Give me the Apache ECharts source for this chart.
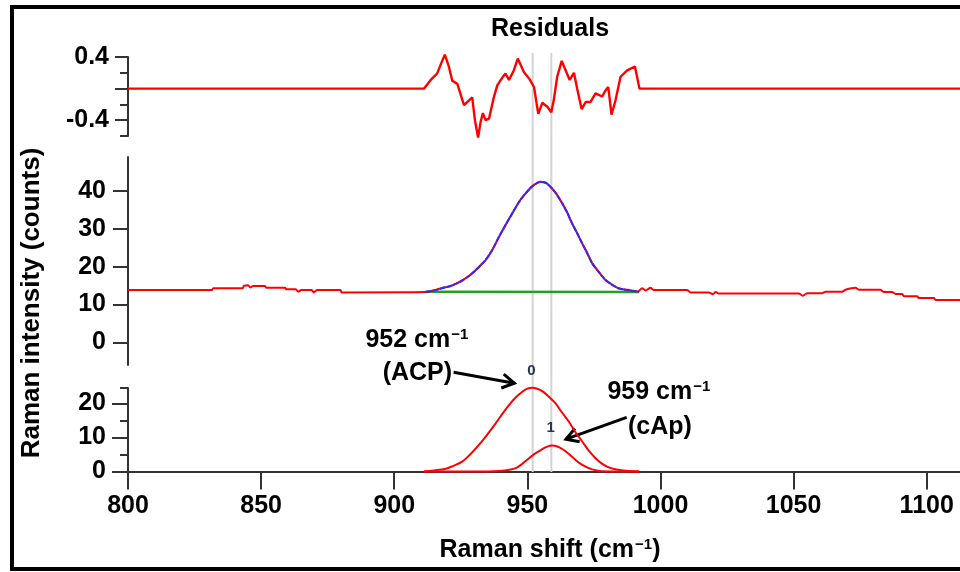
<!DOCTYPE html>
<html><head><meta charset="utf-8">
<script src="https://cdn.jsdelivr.net/npm/echarts@6/dist/echarts.min.js"></script>
<style>html,body{margin:0;padding:0;background:#fff}#c{width:960px;height:572px}</style>
</head><body><div id="c"></div>
<script>
// ---------- data ----------
const xMin = 800, xMax = 1112.5, xStep = 50;
const peakCenters = [952, 959];

const residual = [[800,0],[911.2,0],[911.9,-0.02],[913.7,0.11],[916.1,0.19],[917.4,0.30],[919.0,0.43],[920.5,0.28],[921.8,0.10],[923.7,0.06],[926.2,-0.21],[928.1,-0.15],[929.3,-0.11],[930.3,-0.40],[931.5,-0.62],[932.4,-0.43],[933.3,-0.31],[934.3,-0.40],[935.6,-0.38],[937.4,-0.11],[938.7,0.04],[940.6,0.14],[941.8,0.19],[943.1,0.11],[944.9,0.23],[946.4,0.38],[948.7,0.21],[950.8,0.12],[952.5,0.02],[954.1,-0.32],[955.6,-0.18],[957.5,-0.23],[959.0,-0.30],[960.0,-0.13],[961.2,0.15],[962.9,0.35],[964.4,0.23],[965.9,0.11],[967.5,0.20],[968.7,0.00],[970.4,-0.26],[971.9,-0.17],[973.7,-0.17],[975.6,-0.06],[978.1,-0.10],[979.4,-0.02],[980.4,0.02],[981.6,-0.33],[983.1,-0.15],[985.0,0.15],[987.5,0.23],[990.4,0.28],[991.2,0.15],[992.1,0],[1112.5,0]];

const measured = [[800,13.8],[831.5,13.8],[832,14.3],[843,14.3],[843.5,14.9],[845,15.1],[846,14.5],[847,14.9],[851.5,14.9],[852,14.4],[859,14.4],[859.5,14.0],[863,14.0],[864,13.4],[865,13.8],[869,13.8],[869.8,13.2],[871,13.8],[879.8,13.8],[880.2,13.2],[911.8,13.3],[915,13.8],[918,14.4],[921,14.8],[924.3,15.9],[927,17.0],[929.3,18.2],[932,20.1],[934.3,21.7],[937,24.7],[939.3,27.8],[942,31.3],[944.3,34.0],[947,37.3],[949.3,39.3],[952,41.4],[955,42.4],[957,42.2],[959.3,40.6],[961,39.2],[963.1,36.7],[965,34.3],[966.8,31.4],[968.7,28.9],[970.6,26.1],[972.5,23.6],[974.4,20.8],[977,18.5],[979.4,16.4],[982,15.2],[984.4,14.2],[987.5,13.9],[990.6,13.5],[991.5,13.4],[993.1,14.3],[994.4,13.7],[996.3,14.4],[997.5,13.8],[1010,13.8],[1011.3,13.2],[1018.2,13.2],[1019.7,12.7],[1020.7,13.3],[1021.9,12.9],[1052,12.9],[1053.5,12.3],[1055.1,13.0],[1060.7,13.0],[1062,13.4],[1068.2,13.4],[1069.5,13.9],[1073.3,14.4],[1074.5,13.9],[1082.6,13.9],[1083.9,13.3],[1087,13.3],[1088.3,12.8],[1090.8,12.8],[1091.4,12.2],[1096.4,12.2],[1097,11.7],[1102.7,11.7],[1103.3,11.2],[1112.5,11.2]];

const fit = [[911.8,13.4],[915,13.7],[918,14.3],[921,14.9],[924.3,15.8],[927,17.0],[929.3,18.3],[932,20.0],[934.3,21.8],[937,24.6],[939.3,27.9],[942,31.2],[944.3,34.1],[947,37.2],[949.3,39.4],[952,41.3],[955,42.5],[957,42.1],[959.3,40.7],[961,39.1],[963.1,36.8],[965,34.2],[966.8,31.5],[968.7,28.8],[970.6,26.2],[972.5,23.5],[974.4,20.9],[977,18.4],[979.4,16.5],[982,15.1],[984.4,14.3],[987.5,13.8],[990.6,13.5],[992,13.4]];

const baseline = [[911.8,13.4],[992,13.3]];

const peak0 = [[911.2,0],[915,0.3],[919.3,0.8],[922,1.6],[925.5,2.9],[928.5,5.0],[931.8,7.8],[935,10.9],[938.1,14.1],[940.6,16.9],[943.1,19.5],[945.6,21.7],[948.1,23.4],[950,24.3],[951.8,24.6],[953.7,24.3],[955.6,23.6],[958,22.0],[960.6,20.0],[963,17.3],[965.6,14.6],[968,11.6],[970.6,8.8],[973,6.2],[975.6,3.9],[978,2.3],[980.6,1.2],[983.5,0.6],[986.9,0.2],[992,0]];

const peak1 = [[911.2,0],[935,0],[940.6,0.2],[943,0.5],[945.6,1.0],[948,2.2],[950.6,3.9],[953,5.3],[955.6,6.6],[957.5,7.3],[959.1,7.6],[961,7.4],[963.1,6.6],[965.5,5.2],[968.1,3.4],[970.5,2.0],[973.1,1.0],[975.5,0.4],[978.1,0.1],[992,0]];

// axis ticks / labels
const resMajor = [-0.4, 0, 0.4], resMinor = [-0.6, -0.2, 0.2], resLabels = [-0.4, 0.4];
const midTicks = [0, 10, 20, 30, 40];
const lowMajor = [0, 10, 20], lowMinor = [5, 15, 24.5];

// annotations (bottom panel data coordinates)
const notes = [
  {text: '952 cm{s|−1}', at: [908.5, 38.6]},
  {text: '(ACP)', at: [908.7, 28.8]},
  {text: '959 cm{s|−1}', at: [999.4, 23.4]},
  {text: '(cAp)', at: [999.8, 13.0]}
];
const arrows = [
  {from: [922.3, 29.1], to: [945.1, 25.9]},
  {from: [987.3, 15.9], to: [964.5, 9.5]}
];
const peakTags = [{text: '0', at: [951.5, 29.6]}, {text: '1', at: [958.8, 12.7]}];

// ---------- chart ----------
const FONT = "'Liberation Sans', Arial, sans-serif";
const AX = '#333';
const chart = echarts.init(document.getElementById('c'));
const L = 128, W = 832;

function hiddenX(i) {
  return {type: 'value', gridIndex: i, min: xMin, max: xMax, show: false};
}
const lbl = (extra) => Object.assign({fontFamily: FONT, fontWeight: 'bold', fontSize: 25, color: '#000'}, extra);

const option = {
  animation: false,
  backgroundColor: '#fff',
  grid: [
    {left: L, width: W, top: 53, height: 419},
    {left: L, width: W, top: 57, height: 79},
    {left: L, width: W, top: 157, height: 208},
    {left: L, width: W, top: 388, height: 83.5}
  ],
  xAxis: [
    hiddenX(0), hiddenX(1), hiddenX(2),
    {type: 'value', gridIndex: 3, min: xMin, max: xMax, interval: xStep,
     axisLine: {show: true, onZero: false, lineStyle: {color: AX, width: 2}},
     axisTick: {show: true, length: 18, lineStyle: {color: AX, width: 2}},
     splitLine: {show: false},
     axisLabel: lbl({fontSize: 25, margin: 22, showMaxLabel: false, formatter: v => String(v)})}
  ],
  yAxis: [
    {type: 'value', gridIndex: 0, min: 0, max: 1, show: false},
    {type: 'value', gridIndex: 1, min: -0.6, max: 0.4, position: 'left',
     axisLine: {show: true, onZero: false, lineStyle: {color: AX, width: 2}},
     axisTick: {show: true, length: 8, customValues: resMinor, lineStyle: {color: AX, width: 2}},
     axisLabel: {show: false}, splitLine: {show: false}},
    {type: 'value', gridIndex: 1, min: -0.6, max: 0.4, position: 'left',
     axisLine: {show: false},
     axisTick: {show: true, length: 13, customValues: resMajor, lineStyle: {color: AX, width: 2}},
     axisLabel: lbl({customValues: resLabels, margin: 19, formatter: v => v.toFixed(1)}),
     splitLine: {show: false}},
    {type: 'value', gridIndex: 2, min: -6, max: 49, position: 'left',
     axisLine: {show: true, onZero: false, lineStyle: {color: AX, width: 2}},
     axisTick: {show: true, length: 15, customValues: midTicks, lineStyle: {color: AX, width: 2}},
     axisLabel: lbl({customValues: midTicks, margin: 22}),
     splitLine: {show: false}},
    {type: 'value', gridIndex: 3, min: 0, max: 24.5, position: 'left',
     axisLine: {show: true, onZero: false, lineStyle: {color: AX, width: 2}},
     axisTick: {show: true, length: 8, customValues: lowMinor, lineStyle: {color: AX, width: 2}},
     axisLabel: {show: false}, splitLine: {show: false}},
    {type: 'value', gridIndex: 3, min: 0, max: 24.5, position: 'left',
     axisLine: {show: false},
     axisTick: {show: true, length: 16, customValues: lowMajor, lineStyle: {color: AX, width: 2}},
     axisLabel: lbl({customValues: lowMajor, margin: 22}),
     splitLine: {show: false}}
  ],
  series: [
    ...peakCenters.map(c => ({
      type: 'line', xAxisIndex: 0, yAxisIndex: 0, z: 1, silent: true,
      data: [[c, 0], [c, 1]], showSymbol: false,
      lineStyle: {color: '#d3d3d3', width: 2}
    })),
    {type: 'line', xAxisIndex: 1, yAxisIndex: 1, data: residual, showSymbol: false, clip: false,
     lineStyle: {color: '#ff0000', width: 2.4}, z: 3},
    {type: 'line', xAxisIndex: 2, yAxisIndex: 3, data: baseline, showSymbol: false,
     lineStyle: {color: '#22a022', width: 2.5}, z: 3},
    {type: 'line', xAxisIndex: 2, yAxisIndex: 3, data: measured, showSymbol: false, smooth: 0.2,
     lineStyle: {color: '#ff0000', width: 2}, z: 4},
    {type: 'line', xAxisIndex: 2, yAxisIndex: 3, data: fit, showSymbol: false, smooth: 0.3,
     lineStyle: {color: '#2a2aff', width: 2, type: [6, 1]}, z: 5},
    {type: 'line', xAxisIndex: 3, yAxisIndex: 4, data: peak0, showSymbol: false, smooth: 0.4, clip: false,
     lineStyle: {color: '#ff0000', width: 2}, z: 4},
    {type: 'line', xAxisIndex: 3, yAxisIndex: 4, data: peak1, showSymbol: false, smooth: 0.4, clip: false,
     lineStyle: {color: '#ff0000', width: 2}, z: 4}
  ]
};
chart.setOption(option);

// ---------- graphics (titles, frame, annotations) ----------
const toPx = p => chart.convertToPixel({xAxisIndex: 3, yAxisIndex: 4}, p);
const rich = {s: {fontFamily: FONT, fontWeight: 'bold', fontSize: 15, verticalAlign: 'top', padding: [0, 0, 9, 1]}};
const g = [];
g.push({type: 'rect', shape: {x: 12, y: 7, width: 960, height: 562},
        style: {fill: 'none', stroke: '#000', lineWidth: 4}, silent: true, z: 100});
g.push({type: 'text', x: 550, y: 29, style: {text: 'Residuals', font: "bold 25px " + FONT, fill: '#000', align: 'center', verticalAlign: 'middle'}});
g.push({type: 'text', x: 550, y: 550, style: {text: 'Raman shift (cm{s|−1})', rich, font: "bold 25px " + FONT, fill: '#000', align: 'center', verticalAlign: 'middle'}});
g.push({type: 'text', x: 32, y: 303, rotation: Math.PI / 2,
        style: {text: 'Raman intensity (counts)', font: "bold 26px " + FONT, fill: '#000', align: 'center', verticalAlign: 'middle'}});
notes.forEach(n => {
  const p = toPx(n.at);
  g.push({type: 'text', x: p[0], y: p[1], style: {text: n.text, rich, font: "bold 25px " + FONT, fill: '#000', align: 'center', verticalAlign: 'middle'}});
});
peakTags.forEach(n => {
  const p = toPx(n.at);
  g.push({type: 'text', x: p[0], y: p[1], z: 50, style: {text: n.text, fontSize: 15, fontWeight: 'bold', fontFamily: FONT, fill: '#2d3352', align: 'center', verticalAlign: 'middle'}});
});
arrows.forEach(a => {
  const f = toPx(a.from), t = toPx(a.to);
  const dx = t[0] - f[0], dy = t[1] - f[1], len = Math.hypot(dx, dy);
  const ux = dx / len, uy = dy / len, hl = 12, hw = 7;
  g.push({type: 'line', shape: {x1: f[0], y1: f[1], x2: t[0], y2: t[1]}, style: {stroke: '#000', lineWidth: 3}});
  g.push({type: 'polyline', shape: {points: [
    [t[0] - ux * hl - uy * hw, t[1] - uy * hl + ux * hw], [t[0], t[1]],
    [t[0] - ux * hl + uy * hw, t[1] - uy * hl - ux * hw]]},
    style: {stroke: '#000', lineWidth: 3, fill: 'none', lineJoin: 'miter'}});
});
chart.setOption({graphic: g});
</script>
</body></html>
